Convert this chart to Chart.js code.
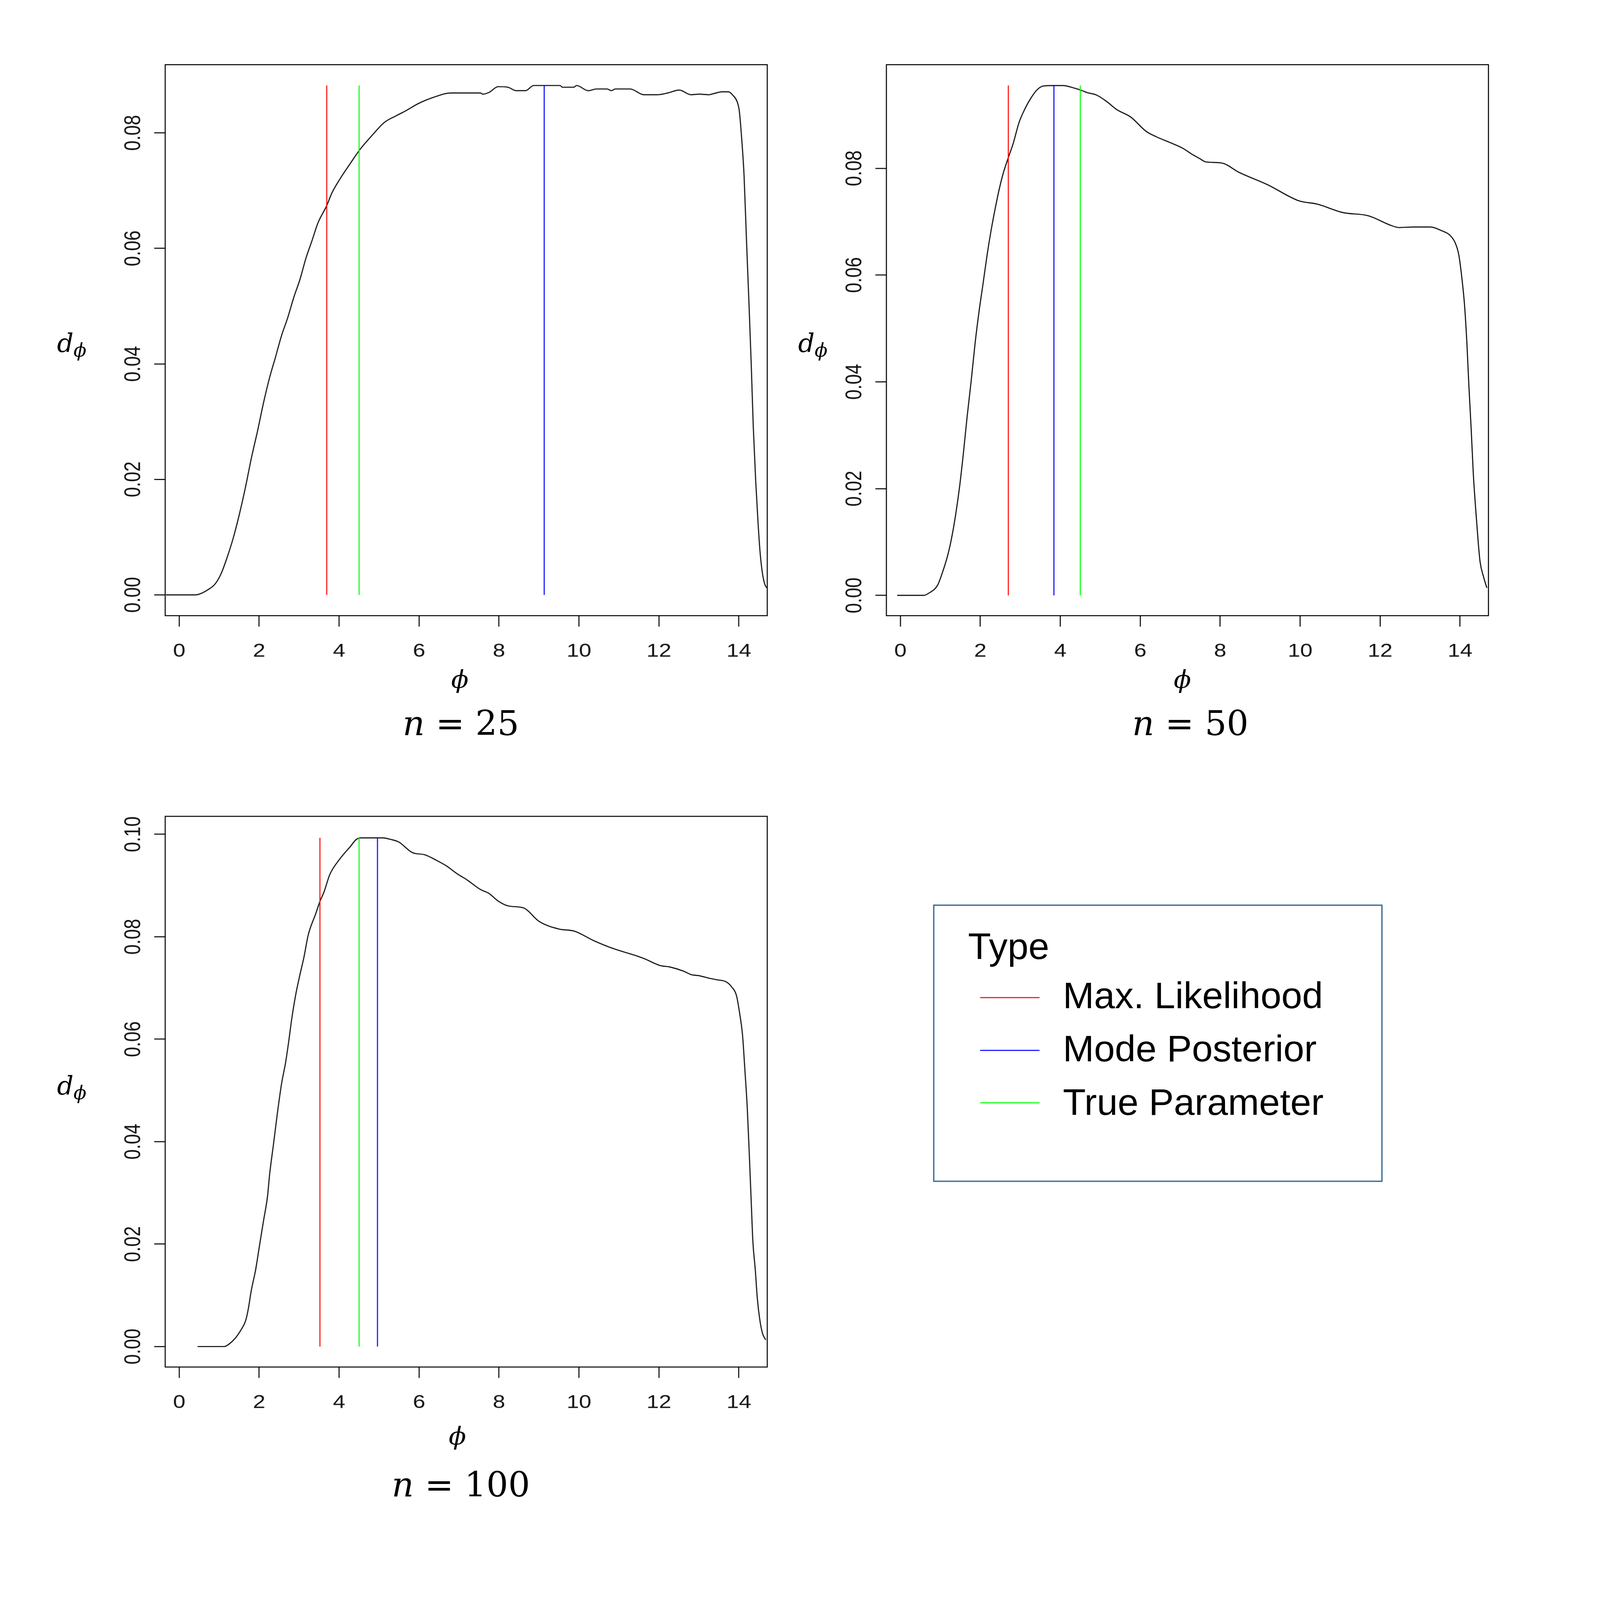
<!DOCTYPE html>
<html>
<head>
<meta charset="utf-8">
<script src="https://cdn.jsdelivr.net/npm/chart.js@4.4.1/dist/chart.umd.min.js"></script>
<style>
  html, body { margin: 0; padding: 0; background: #fff; overflow: hidden; }
  #page { position: relative; width: 4659px; height: 4700px; overflow: hidden; background: #fff; transform-origin: 0 0; }
  .panel { position: absolute; }
  .math { position: absolute; font-family: "DejaVu Serif", serif; line-height: 1; white-space: nowrap; color: #000; }
  .center { transform: translateX(-50%); }
  #legend { position: absolute; left: 2717px; top: 2657px; width: 1309px; height: 815px;
            box-sizing: border-box; border: 4px solid #41719c; background: #fff; }
  .legend-text { position: absolute; font-family: "Liberation Sans", Arial, sans-serif; font-size: 109px;
                 line-height: 1; white-space: nowrap; color: #000; }
  .legend-line { position: absolute; height: 3px; width: 173px; }
</style>
</head>
<body>
<div id="page">
  <div class="panel" style="left:261px; top:170px;"><canvas id="chart25" width="1993" height="1858"></canvas></div>
  <div class="panel" style="left:2361px; top:170px;"><canvas id="chart50" width="1993" height="1858"></canvas></div>
  <div class="panel" style="left:261px; top:2378px;"><canvas id="chart100" width="1993" height="1857"></canvas></div>

  <div class="math" style="left:166px; top:971px; font-size:75px;"><i>d</i><span style="font-size:55px; position:relative; top:14px;"><i>ϕ</i></span></div>
  <div class="math" style="left:2324px; top:971px; font-size:75px;"><i>d</i><span style="font-size:55px; position:relative; top:14px;"><i>ϕ</i></span></div>
  <div class="math" style="left:166px; top:3152px; font-size:75px;"><i>d</i><span style="font-size:55px; position:relative; top:14px;"><i>ϕ</i></span></div>

  <div class="math center" style="left:1339px; top:1958px; font-size:74px;"><i>ϕ</i></div>
  <div class="math center" style="left:3443px; top:1958px; font-size:74px;"><i>ϕ</i></div>
  <div class="math center" style="left:1332px; top:4180px; font-size:74px;"><i>ϕ</i></div>

  <div class="math center" id="title25" style="left:1342px; top:2076px; font-size:100px;"></div>
  <div class="math center" id="title50" style="left:3466px; top:2076px; font-size:100px;"></div>
  <div class="math center" id="title100" style="left:1342px; top:4312px; font-size:100px;"></div>

  <div id="legend"></div>
</div>

<script>
// posterior density of phi
const phi25 = [-0.33, 0.40, 0.72, 0.90, 1.05, 1.20, 1.35, 1.50, 1.66, 1.80, 1.96, 2.11, 2.26, 2.41, 2.56,
  2.71, 2.87, 3.02, 3.17, 3.32, 3.47, 3.69, 3.82, 4.02, 4.28, 4.52, 4.83, 5.13, 5.44, 5.69, 5.99, 6.34,
  6.80, 7.54, 7.59, 7.75, 7.98, 8.22, 8.43, 8.66, 8.87, 9.53, 9.58, 9.87, 9.94, 10.23, 10.44, 10.70,
  10.81, 10.91, 11.28, 11.62, 11.96, 12.22, 12.51, 12.80, 13.01, 13.25, 13.32, 13.58, 13.74, 13.85,
  13.95, 14.01, 14.07, 14.13, 14.19, 14.25, 14.31, 14.36, 14.42, 14.48, 14.53, 14.59, 14.65, 14.70];
const dens25 = [0, 0, 0.0009, 0.0019, 0.0037, 0.0065, 0.0098, 0.0138, 0.0187, 0.0235, 0.0284, 0.0333,
  0.0376, 0.0412, 0.0449, 0.0479, 0.0516, 0.0546, 0.0583, 0.0613, 0.0644, 0.0674, 0.0696, 0.0720,
  0.0747, 0.0771, 0.0796, 0.0818, 0.0830, 0.0839, 0.0851, 0.0861, 0.0869, 0.0869, 0.0867, 0.0870,
  0.0880, 0.0879, 0.0873, 0.0873, 0.0882, 0.0882, 0.0879, 0.0879, 0.0882, 0.0873, 0.0876, 0.0876,
  0.0873, 0.0876, 0.0876, 0.0866, 0.0866, 0.0869, 0.0874, 0.0866, 0.0867, 0.0866, 0.0867, 0.0871,
  0.0871, 0.0865, 0.0855, 0.0838, 0.0790, 0.0725, 0.0614, 0.0509, 0.0397, 0.0291, 0.0198, 0.0124,
  0.0074, 0.0037, 0.0018, 0.0012];

const phi50 = [-0.08, 0.58, 0.73, 0.93, 1.03, 1.18, 1.28, 1.38, 1.48, 1.58, 1.67, 1.77, 1.87, 1.97, 2.07,
  2.17, 2.27, 2.37, 2.47, 2.57, 2.70, 2.82, 2.97, 3.12, 3.27, 3.42, 3.57, 3.84, 4.06, 4.36, 4.56, 4.66,
  4.91, 5.16, 5.41, 5.76, 6.15, 6.40, 6.75, 7.05, 7.30, 7.49, 7.64, 8.03, 8.48, 9.19, 9.97, 10.42,
  11.07, 11.71, 12.27, 12.47, 12.84, 13.26, 13.54, 13.74, 13.88, 13.97, 14.05, 14.11, 14.17, 14.22,
  14.28, 14.33, 14.39, 14.45, 14.50, 14.59, 14.67];
const dens50 = [0, 0, 0.0005, 0.0019, 0.0038, 0.0074, 0.0107, 0.0150, 0.0203, 0.0269, 0.0335, 0.0401,
  0.0473, 0.0533, 0.0585, 0.0638, 0.0684, 0.0724, 0.0760, 0.0790, 0.0820, 0.0846, 0.0886, 0.0912,
  0.0932, 0.0947, 0.0954, 0.0955, 0.0955, 0.0950, 0.0945, 0.0942, 0.0937, 0.0925, 0.0910, 0.0896,
  0.0869, 0.0859, 0.0848, 0.0838, 0.0826, 0.0818, 0.0812, 0.0810, 0.0792, 0.0769, 0.0739, 0.0733,
  0.0717, 0.0711, 0.0693, 0.0689, 0.0690, 0.0690, 0.0683, 0.0675, 0.0660, 0.0637, 0.0591, 0.0545,
  0.0473, 0.0393, 0.0308, 0.0229, 0.0162, 0.0103, 0.0063, 0.0034, 0.0014];

const phi100 = [0.46, 1.13, 1.25, 1.40, 1.55, 1.66, 1.73, 1.80, 1.91, 2.01, 2.11, 2.21, 2.26, 2.36, 2.46,
  2.56, 2.66, 2.74, 2.81, 2.91, 3.02, 3.12, 3.22, 3.27, 3.42, 3.51, 3.62, 3.77, 4.02, 4.28, 4.43, 4.55,
  5.09, 5.29, 5.49, 5.84, 6.14, 6.44, 6.69, 6.95, 7.20, 7.54, 7.74, 7.99, 8.24, 8.62, 9.00, 9.50, 9.88,
  10.38, 10.89, 11.39, 11.64, 12.02, 12.27, 12.61, 12.81, 13.00, 13.26, 13.45, 13.68, 13.82, 13.94,
  14.02, 14.09, 14.15, 14.21, 14.26, 14.31, 14.35, 14.41, 14.46, 14.52, 14.59, 14.67];
const dens100 = [0, 0, 0.0005, 0.0016, 0.0033, 0.0050, 0.0074, 0.0108, 0.0149, 0.0198, 0.0246, 0.0294,
  0.0335, 0.0396, 0.0458, 0.0513, 0.0554, 0.0596, 0.0637, 0.0685, 0.0726, 0.0760, 0.0801, 0.0815,
  0.0846, 0.0867, 0.0887, 0.0922, 0.0952, 0.0976, 0.0990, 0.0993, 0.0993, 0.0990, 0.0985, 0.0964,
  0.0960, 0.0949, 0.0938, 0.0923, 0.0911, 0.0892, 0.0885, 0.0869, 0.0860, 0.0856, 0.0830, 0.0815,
  0.0811, 0.0792, 0.0776, 0.0764, 0.0757, 0.0744, 0.0741, 0.0733, 0.0726, 0.0724, 0.0719, 0.0716,
  0.0712, 0.0702, 0.0685, 0.0650, 0.0609, 0.0540, 0.0465, 0.0376, 0.0280, 0.0205, 0.0150, 0.0095,
  0.0054, 0.0026, 0.0013];

// point estimates: max. likelihood, posterior mode, true value
const estimateTypes = ["Max. Likelihood", "Mode Posterior", "True Parameter"];
const estimateColors = ["#ff0000", "#0000ff", "#00ff00"];
const estimates25 = [3.69, 9.13, 4.5];
const estimates50 = [2.70, 3.84, 4.5];
const estimates100 = [3.52, 4.96, 4.5];

const sampleSizes = [25, 50, 100];

// axes
const phiRange = [-0.35, 14.71];
const phiTicks = [0, 2, 4, 6, 8, 10, 12, 14];
const densRange25 = [-0.0036, 0.0918];
const densRange50 = [-0.0038, 0.0994];
const densRange100 = [-0.0040, 0.1035];
const densTicks = [0, 0.02, 0.04, 0.06, 0.08];
const densTicks100 = [0, 0.02, 0.04, 0.06, 0.08, 0.10];

// the page is laid out at 4659x4700 and shrunk to whatever window it gets
const scaleX = Math.min(1, window.innerWidth / 4659);
const scaleY = Math.min(1, window.innerHeight / 4700);

// R-style box, outward ticks and narrow tick labels
const rAxesPlugin = {
    id: "rAxes",
    afterDraw(chart) {
        const { ctx, chartArea, scales } = chart;
        ctx.save();
        ctx.strokeStyle = "#000";
        ctx.lineWidth = 3;
        ctx.strokeRect(chartArea.left, chartArea.top,
            chartArea.right - chartArea.left, chartArea.bottom - chartArea.top);

        ctx.fillStyle = "#111";
        ctx.font = '54px "Liberation Sans", Arial, sans-serif';
        ctx.textAlign = "center";
        ctx.textBaseline = "alphabetic";
        scales.x.ticks.forEach((t) => {
            const px = scales.x.getPixelForValue(t.value);
            ctx.save();
            ctx.translate(px, chartArea.bottom + 120);
            ctx.scale(1.2, 1);
            ctx.fillText(String(t.value), 0, 0);
            ctx.restore();
        });
        scales.y.ticks.forEach((t) => {
            const py = scales.y.getPixelForValue(t.value);
            ctx.save();
            ctx.translate(chartArea.left - 73, py);
            ctx.rotate(-Math.PI / 2);
            ctx.scale(1, 1.2);
            ctx.fillText(t.value.toFixed(2), 0, 0);
            ctx.restore();
        });
        ctx.restore();
    },
};

function axisOptions(range, ticks, isX) {
    return {
        type: "linear",
        position: isX ? "bottom" : "left",
        min: range[0],
        max: range[1],
        afterBuildTicks(scale) {
            scale.ticks = ticks.map((v) => ({ value: v }));
        },
        afterFit(scale) {
            if (isX) scale.height = 220;
            else scale.width = 220;
        },
        border: { display: false },
        grid: {
            drawOnChartArea: false,
            drawTicks: true,
            tickLength: 32,
            tickWidth: 3,
            tickColor: "#000",
        },
        ticks: { display: false },
    };
}

function createDensityPanel(canvasId, phi, dens, estimates, densRange, densTickValues) {
    const peak = Math.max(...dens);
    const estimateSets = estimates.map((v, i) => ({
        label: estimateTypes[i],
        data: [{ x: v, y: 0 }, { x: v, y: peak }],
        borderColor: estimateColors[i],
        borderWidth: 3,
        pointRadius: 0,
        showLine: true,
    }));

    new Chart(document.getElementById(canvasId), {
        type: "scatter",
        data: {
            datasets: [
                ...estimateSets,
                {
                    label: "density",
                    data: phi.map((x, i) => ({ x, y: dens[i] })),
                    borderColor: "#000",
                    borderWidth: 3,
                    pointRadius: 0,
                    showLine: true,
                    cubicInterpolationMode: "monotone",
                },
            ],
        },
        options: {
            responsive: false,
            devicePixelRatio: Math.max(scaleX, scaleY),
            animation: false,
            events: [],
            layout: { autoPadding: false, padding: { top: 20, right: 20, left: 0, bottom: 0 } },
            plugins: { legend: { display: false }, tooltip: { enabled: false } },
            scales: {
                x: axisOptions(phiRange, phiTicks, true),
                y: axisOptions(densRange, densTickValues, false),
            },
        },
        plugins: [rAxesPlugin],
    });
}

function buildLegend() {
    const box = document.getElementById("legend");
    const title = document.createElement("div");
    title.className = "legend-text";
    title.textContent = "Type";
    title.style.left = "98px";
    title.style.top = "64px";
    box.appendChild(title);

    estimateTypes.forEach((name, i) => {
        const line = document.createElement("div");
        line.className = "legend-line";
        line.style.background = estimateColors[i];
        line.style.left = "133px";
        line.style.top = [268, 423, 577][i] + "px";
        box.appendChild(line);

        const text = document.createElement("div");
        text.className = "legend-text";
        text.textContent = name;
        text.style.left = "374px";
        text.style.top = [209, 365, 522][i] + "px";
        box.appendChild(text);
    });
}

document.addEventListener("DOMContentLoaded", () => {
    if (scaleX < 1 || scaleY < 1) {
        document.getElementById("page").style.transform = "scale(" + scaleX + "," + scaleY + ")";
    }

    ["title25", "title50", "title100"].forEach((id, i) => {
        document.getElementById(id).innerHTML = "<i>n</i> = " + sampleSizes[i];
    });

    createDensityPanel("chart25", phi25, dens25, estimates25, densRange25, densTicks);
    createDensityPanel("chart50", phi50, dens50, estimates50, densRange50, densTicks);
    createDensityPanel("chart100", phi100, dens100, estimates100, densRange100, densTicks100);

    buildLegend();
});
</script>
</body>
</html>
